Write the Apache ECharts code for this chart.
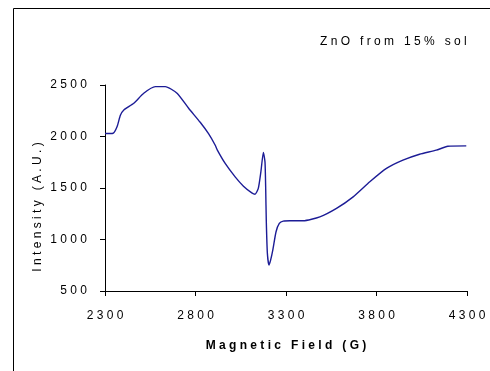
<!DOCTYPE html>
<html>
<head>
<meta charset="utf-8">
<script src="https://cdn.jsdelivr.net/npm/echarts@6/dist/echarts.min.js"></script>
<style>
html,body{margin:0;padding:0;background:#fff;}
#chart{width:490px;height:371px;}
</style>
</head>
<body>
<div id="chart"></div>
<script>
// Data
const fieldG = [2300, 2345, 2367, 2385, 2404, 2459, 2514, 2578, 2633, 2698, 2762, 2826, 2872, 2909, 2920, 2964, 3019, 3065, 3111, 3129, 3147, 3161, 3175, 3184, 3188, 3191, 3197, 3206, 3215, 3227, 3245, 3263, 3285, 3322, 3395, 3487, 3579, 3671, 3763, 3855, 3946, 4038, 4130, 4194, 4296];
const intensity = [2029, 2032, 2097, 2206, 2258, 2323, 2420, 2484, 2484, 2420, 2274, 2138, 2027, 1915, 1870, 1738, 1608, 1518, 1453, 1440, 1496, 1654, 1845, 1751, 1479, 1188, 868, 752, 800, 897, 1075, 1156, 1179, 1182, 1182, 1220, 1302, 1414, 1560, 1690, 1770, 1828, 1867, 1905, 1909];
const titleText = 'ZnO from 15% sol';
const xAxisName = 'Magnetic Field (G)';
const yAxisName = 'Intensity (A.U.)';
const xRange = [2300, 4300];
const yRange = [500, 2500];
const tickStep = 500;

function spaced(s) {
  return s.split(' ').map(w => w.split('').join(' ')).join('   ');
}

const points = fieldG.map((v, i) => [v, intensity[i]]);
const chart = echarts.init(document.getElementById('chart'), null, {renderer: 'canvas'});
const font = '"Liberation Sans", Arial, sans-serif';
chart.setOption({
  animation: false,
  backgroundColor: '#ffffff',
  title: {
    text: spaced(titleText),
    left: 320, top: 36, padding: 0,
    textStyle: {fontFamily: font, fontSize: 12, fontWeight: 'normal', color: '#000'}
  },
  grid: {left: 105, top: 85, right: 23, bottom: 80},
  xAxis: {
    type: 'value', min: xRange[0], max: xRange[1], interval: tickStep,
    name: spaced(xAxisName), nameLocation: 'middle', nameGap: 49,
    nameTextStyle: {fontFamily: font, fontSize: 12, fontWeight: 'bold', color: '#000'},
    axisLine: {lineStyle: {color: '#000', width: 1}},
    axisTick: {show: true, inside: false, length: 5, lineStyle: {color: '#000'}},
    axisLabel: {margin: 19, fontFamily: font, fontSize: 12, color: '#000', formatter: v => spaced(String(v))},
    splitLine: {show: false}
  },
  yAxis: {
    type: 'value', min: yRange[0], max: yRange[1], interval: tickStep,
    axisLine: {show: true, lineStyle: {color: '#000', width: 1}},
    axisTick: {show: true, inside: false, length: 5, lineStyle: {color: '#000'}},
    axisLabel: {margin: 18, fontFamily: font, fontSize: 12, color: '#000', formatter: v => spaced(String(v))},
    splitLine: {show: false}
  },
  graphic: [
    {type: 'rect', silent: true, shape: {x: 13.5, y: 8.5, width: 600, height: 500},
     style: {fill: 'none', stroke: '#000', lineWidth: 1}, z: -1},
    {type: 'text', x: 38, y: 207, rotation: Math.PI / 2,
     style: {text: spaced(yAxisName), font: '12px ' + font, fill: '#000', align: 'center', verticalAlign: 'middle'}}
  ],
  series: [{
    type: 'line', data: points, showSymbol: false, smooth: 0.2,
    lineStyle: {color: '#1c1c96', width: 1.4}
  }]
});
</script>
</body>
</html>
